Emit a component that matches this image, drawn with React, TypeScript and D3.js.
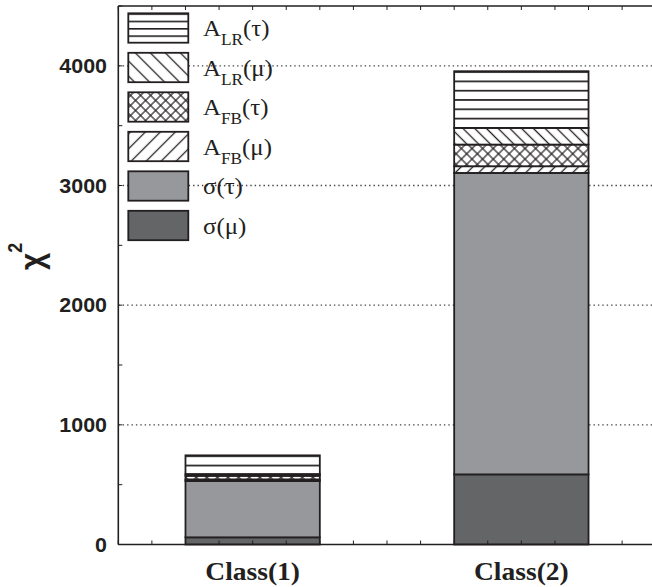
import React from "react";
import * as d3 from "d3";

const categories = ["Class(1)", "Class(2)"];
const sigmaMu = [60, 586];
const sigmaTau = [470, 2519];
const afbMu = [14, 56];
const afbTau = [30, 181];
const alrMu = [15, 139];
const alrTau = [156, 474];
const yTickValues = [0, 1000, 2000, 3000, 4000];
const yMinorTicks = [0, 500, 1000, 1500, 2000, 2500, 3000, 3500, 4000, 4500];
const gridValues = [1000, 2000, 3000, 4000];

const seriesKeys = ["sigmaMu", "sigmaTau", "afbMu", "afbTau", "alrMu", "alrTau"];
const legendKeys = ["alrTau", "alrMu", "afbTau", "afbMu", "sigmaTau", "sigmaMu"];
const legendLabels: Record<string, { main: string; sub: string; tail: string }> = {
  alrTau: { main: "A", sub: "LR", tail: "(τ)" },
  alrMu: { main: "A", sub: "LR", tail: "(μ)" },
  afbTau: { main: "A", sub: "FB", tail: "(τ)" },
  afbMu: { main: "A", sub: "FB", tail: "(μ)" },
  sigmaTau: { main: "σ(τ)", sub: "", tail: "" },
  sigmaMu: { main: "σ(μ)", sub: "", tail: "" },
};

const INK = "#231f20";
const W = 652;
const H = 587;
const LEFT = 118.3;
const TOP = 6;
const BOTTOM = 544.5;
const RIGHT = 655.7;

export default function App() {
  const rows = categories.map((c, i) => ({
    cat: c,
    sigmaMu: sigmaMu[i],
    sigmaTau: sigmaTau[i],
    afbMu: afbMu[i],
    afbTau: afbTau[i],
    alrMu: alrMu[i],
    alrTau: alrTau[i],
  }));
  const stacked = d3.stack<any>().keys(seriesKeys)(rows);

  const y = d3.scaleLinear().domain([0, 4500]).range([BOTTOM, TOP]);
  const x = d3.scaleBand<string>().domain(categories).range([LEFT, RIGHT]).padding(0);
  const bw = x.bandwidth();
  const barW = bw / 2;

  const xMinor = d3.range(0, 17).map((i) => LEFT + (i * bw) / 8).filter((v) => v < W);

  const fillFor = (key: string, barIdx: number, legend: boolean) => {
    const suf = legend ? "leg" : "bar";
    switch (key) {
      case "sigmaMu":
        return "#646567";
      case "sigmaTau":
        return "#97989b";
      case "afbMu":
        return `url(#diagF-${suf})`;
      case "afbTau":
        return `url(#cross-${suf})`;
      case "alrMu":
        return `url(#diagB-${suf})`;
      case "alrTau":
        return legend ? `url(#hl-leg)` : `url(#hl-bar-${barIdx})`;
    }
    return "none";
  };

  const alrTauLayer = stacked.find((s) => s.key === "alrTau")!;

  const legX = 128.3;
  const legTop0 = 13.3;
  const legStep = 39.5;
  const legH = 29.4;
  const legW = 60;

  const hatch = (id: string, p: number, angle: number, sw: number, cross: boolean) => (
    <pattern
      id={id}
      patternUnits="userSpaceOnUse"
      width={p}
      height={p}
      patternTransform={`rotate(${angle})`}
    >
      <rect x={0} y={0} width={p} height={p} fill="#fff" />
      <line x1={p / 2} y1={0} x2={p / 2} y2={p} stroke={INK} strokeWidth={sw} />
      {cross && <line x1={0} y1={p / 2} x2={p} y2={p / 2} stroke={INK} strokeWidth={sw} />}
    </pattern>
  );

  return (
    <svg
      width={W}
      height={H}
      style={{ position: "absolute", left: 0, top: 0, background: "#fff" }}
      xmlns="http://www.w3.org/2000/svg"
    >
      <defs>
        {hatch("diagF-bar", 8.3, 45, 1.3, false)}
        {hatch("diagB-bar", 8.3, -45, 1.3, false)}
        {hatch("cross-bar", 7.5, 45, 1.2, true)}
        {hatch("diagF-leg", 10.6, 45, 1.3, false)}
        {hatch("diagB-leg", 10.6, -45, 1.3, false)}
        {hatch("cross-leg", 7.1, 45, 1.2, true)}
        {alrTauLayer.map((d, i) => (
          <pattern
            key={i}
            id={`hl-bar-${i}`}
            patternUnits="userSpaceOnUse"
            x={0}
            y={y(d[1])}
            width={20}
            height={9.3}
          >
            <rect x={0} y={0} width={20} height={9.3} fill="#fff" />
            <line x1={0} y1={0} x2={20} y2={0} stroke={INK} strokeWidth={3.4} />
          </pattern>
        ))}
        <pattern
          id="hl-leg"
          patternUnits="userSpaceOnUse"
          x={0}
          y={legTop0}
          width={20}
          height={legH / 4}
        >
          <rect x={0} y={0} width={20} height={legH / 4} fill="#fff" />
          <line x1={0} y1={0} x2={20} y2={0} stroke={INK} strokeWidth={3.2} />
        </pattern>
      </defs>

      {/* grid lines */}
      {gridValues.map((v) => (
        <line
          key={v}
          x1={LEFT}
          x2={W}
          y1={y(v)}
          y2={y(v)}
          stroke="#444"
          strokeWidth={1.3}
          strokeDasharray="1.4,3"
        />
      ))}

      {/* bars */}
      {stacked.map((layer) =>
        layer.map((d, i) => (
          <rect
            key={layer.key + i}
            x={(x(categories[i]) as number) + bw / 4}
            y={y(d[1])}
            width={barW}
            height={y(d[0]) - y(d[1])}
            fill={fillFor(layer.key, i, false)}
            stroke={INK}
            strokeWidth={1.8}
          />
        ))
      )}

      {/* axes */}
      <line x1={LEFT} x2={W} y1={BOTTOM} y2={BOTTOM} stroke={INK} strokeWidth={1.6} />
      <line x1={LEFT} x2={W} y1={TOP} y2={TOP} stroke={INK} strokeWidth={1.6} />
      <line x1={LEFT} x2={LEFT} y1={TOP} y2={BOTTOM} stroke={INK} strokeWidth={1.6} />
      {xMinor.map((v, i) => (
        <g key={i}>
          <line x1={v} x2={v} y1={BOTTOM} y2={BOTTOM - 4} stroke={INK} strokeWidth={1} />
          <line x1={v} x2={v} y1={TOP} y2={TOP + 4} stroke={INK} strokeWidth={1} />
        </g>
      ))}
      {yMinorTicks.map((v) => (
        <line key={v} x1={LEFT} x2={LEFT + 4} y1={y(v)} y2={y(v)} stroke={INK} strokeWidth={1} />
      ))}

      {/* y tick labels */}
      {yTickValues.map((v) => (
        <text
          key={v}
          transform={`translate(107, ${y(v)}) scale(1.1,1)`}
          textAnchor="end"
          dy="0.36em"
          fontFamily="'Liberation Sans', Arial, sans-serif"
          fontWeight="bold"
          fontSize={19.5}
          fill={INK}
        >
          {v}
        </text>
      ))}

      {/* x labels */}
      {categories.map((c) => (
        <text
          key={c}
          transform={`translate(${(x(c) as number) + bw / 2}, 580) scale(1.08,1)`}
          textAnchor="middle"
          fontFamily="'Liberation Serif', 'Times New Roman', serif"
          fontWeight="bold"
          fontSize={25.5}
          fill={INK}
        >
          {c}
        </text>
      ))}

      {/* y axis title */}
      <text
        transform="translate(43, 270) rotate(-90) scale(1,1.13)"
        fontFamily="'Liberation Sans', Arial, sans-serif"
        fontWeight="bold"
        fontSize={30}
        fill={INK}
      >
        χ
        <tspan fontSize={18} dy={-19}>
          2
        </tspan>
      </text>

      {/* legend */}
      {legendKeys.map((k, i) => {
        const top = legTop0 + i * legStep;
        const lab = legendLabels[k];
        return (
          <g key={k}>
            <rect
              x={legX}
              y={top}
              width={legW}
              height={legH}
              fill={k === "alrTau" ? "url(#hl-leg)" : fillFor(k, 0, true)}
              stroke={INK}
              strokeWidth={1.8}
            />
            <text
              transform={`translate(203, ${top + legH / 2 + 8}) scale(1.08,1)`}
              fontFamily="'Liberation Serif', 'Times New Roman', serif"
              fontSize={23}
              fill={INK}
            >
              {lab.main}
              {lab.sub && (
                <tspan fontSize={16} dy={9}>
                  {lab.sub}
                </tspan>
              )}
              {lab.tail && <tspan dy={lab.sub ? -9 : 0}>{lab.tail}</tspan>}
            </text>
          </g>
        );
      })}
    </svg>
  );
}
